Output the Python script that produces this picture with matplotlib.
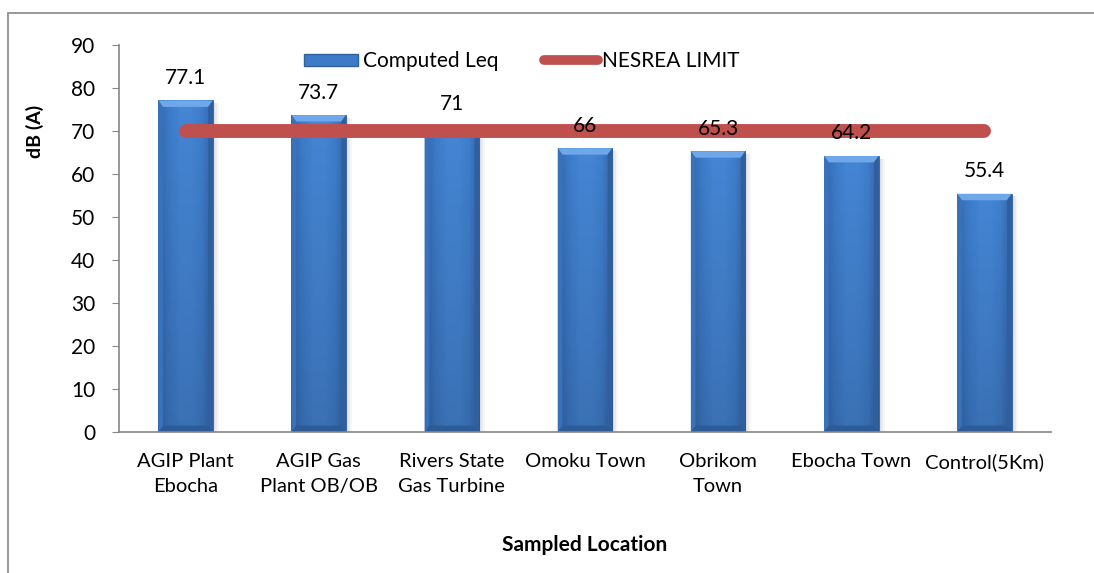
import numpy as np
import matplotlib
matplotlib.use('Agg')
from matplotlib import pyplot as plt
from matplotlib.patches import Rectangle, Polygon, Patch
from matplotlib.lines import Line2D
from matplotlib.colors import LinearSegmentedColormap

plt.rcParams['font.family'] = ['Lato', 'DejaVu Sans']

locations = ['AGIP Plant\nEbocha', 'AGIP Gas\nPlant OB/OB', 'Rivers State\nGas Turbine',
             'Omoku Town', 'Obrikom\nTown', 'Ebocha Town', 'Control(5Km)']
leq = [77.1, 73.7, 71, 66, 65.3, 64.2, 55.4]
nesrea_limit = [70, 70, 70, 70, 70, 70, 70]
value_labels = ['77.1', '73.7', '71', '66', '65.3', '64.2', '55.4']

W, H = 1094, 573
fig = plt.figure(figsize=(W / 100, H / 100), dpi=100)
ax = fig.add_axes([119 / W, 1 - 432 / H, (1051 - 119) / W, (432 - 45) / H])

# outer chart border (cut off at right and bottom)
fig.patches.append(Rectangle((8 / W, -0.2), 1.2, 1.2 - 13 / H,
                             transform=fig.transFigure, fill=False,
                             edgecolor='#868686', linewidth=1.2, zorder=0))

x = np.arange(len(leq))
width = 0.41
bars = ax.bar(x, leq, width=width, color='#3d7bc9', edgecolor='#2f609f',
              linewidth=0.6, zorder=2)

# horizontal shading across each bar, slightly darker toward the edges
cmap = LinearSegmentedColormap.from_list(
    'barshade', ['#3568ad', '#3d7bc9', '#4585d4', '#4586d5', '#3f7ecc', '#3465a8'])
gx = np.linspace(0, 1, 200)
shade = np.tile(gx, (100, 1))
for b, v in zip(bars, leq):
    x0 = b.get_x()
    x1 = x0 + b.get_width()
    # drop shadow on the right/bottom
    for k, a in zip([0.045, 0.03, 0.015], [0.05, 0.07, 0.09]):
        ax.add_patch(Rectangle((x0 + k, -0.6), b.get_width(), v, facecolor='#555555',
                               alpha=a, edgecolor='none', zorder=1))
    im = ax.imshow(shade, cmap=cmap, extent=[x0, x1, 0, v], aspect='auto',
                   origin='lower', zorder=2.1, interpolation='bilinear')
    im.set_clip_path(b)
    # a little darker toward the bottom
    vert = np.linspace(0.15, 0, 100)[:, None] * np.ones((1, 2))
    im2 = ax.imshow(np.zeros((100, 2)), cmap='gray', extent=[x0, x1, 0, v],
                    aspect='auto', origin='lower', zorder=2.2, alpha=vert)
    im2.set_clip_path(b)
    dx = 0.035
    dy = 1.5
    # bevel edges
    ax.add_patch(Polygon([[x0, v], [x1, v], [x1 - dx, v - dy], [x0 + dx, v - dy]],
                         closed=True, facecolor='#6fa8ea', edgecolor='none', zorder=2.3))
    ax.add_patch(Polygon([[x0, 0], [x1, 0], [x1 - dx, dy], [x0 + dx, dy]],
                         closed=True, facecolor='#2d5b98', edgecolor='none', zorder=2.3))
    ax.add_patch(Polygon([[x0, 0], [x0 + dx, dy], [x0 + dx, v - dy], [x0, v]],
                         closed=True, facecolor='#3a72ba', edgecolor='none', zorder=2.3))
    ax.add_patch(Polygon([[x1, 0], [x1 - dx, dy], [x1 - dx, v - dy], [x1, v]],
                         closed=True, facecolor='#2f5f9e', edgecolor='none', zorder=2.3))

ax.plot(x, nesrea_limit, color='#c0504d', linewidth=10, solid_capstyle='round', zorder=3)

for xi, v, lab in zip(x, leq, value_labels):
    ax.annotate(lab, (xi, v), xytext=(0, 9), textcoords='offset points',
                ha='center', va='bottom', fontsize=15, zorder=5)

ax.set_xlim(-0.5, len(leq) - 0.5)
ax.set_ylim(0, 90)
ax.set_yticks(np.arange(0, 91, 10))
ax.set_xticks(x)
ax.set_xticklabels(locations, fontsize=14.5, linespacing=1.55)
ax.tick_params(axis='y', labelsize=15, length=5, color='#868686', pad=12)
ax.tick_params(axis='x', length=0, pad=15)
for s in ['top', 'right']:
    ax.spines[s].set_visible(False)
for s in ['left', 'bottom']:
    ax.spines[s].set_color('#868686')
    ax.spines[s].set_linewidth(1.2)

fig.text(35 / W, 1 - 131 / H, 'dB (A)', rotation=90, ha='center', va='center',
         fontsize=14, fontweight='bold')
fig.text(585 / W, 1 - 545 / H, 'Sampled Location', ha='center', va='center',
         fontsize=15, fontweight='bold')

handles = [Patch(facecolor='#3d7bc9', edgecolor='#2f609f'),
           Line2D([0], [0], color='#c0504d', linewidth=7, solid_capstyle='round')]
fig.legend(handles, ['Computed Leq', 'NESREA LIMIT'], loc='center',
           bbox_to_anchor=(522 / W, 1 - 61 / H), ncol=2, frameon=False,
           fontsize=15, handlelength=2.6, handleheight=0.5, handletextpad=0.2,
           columnspacing=2.2)

fig.savefig('out.png', dpi=100)
